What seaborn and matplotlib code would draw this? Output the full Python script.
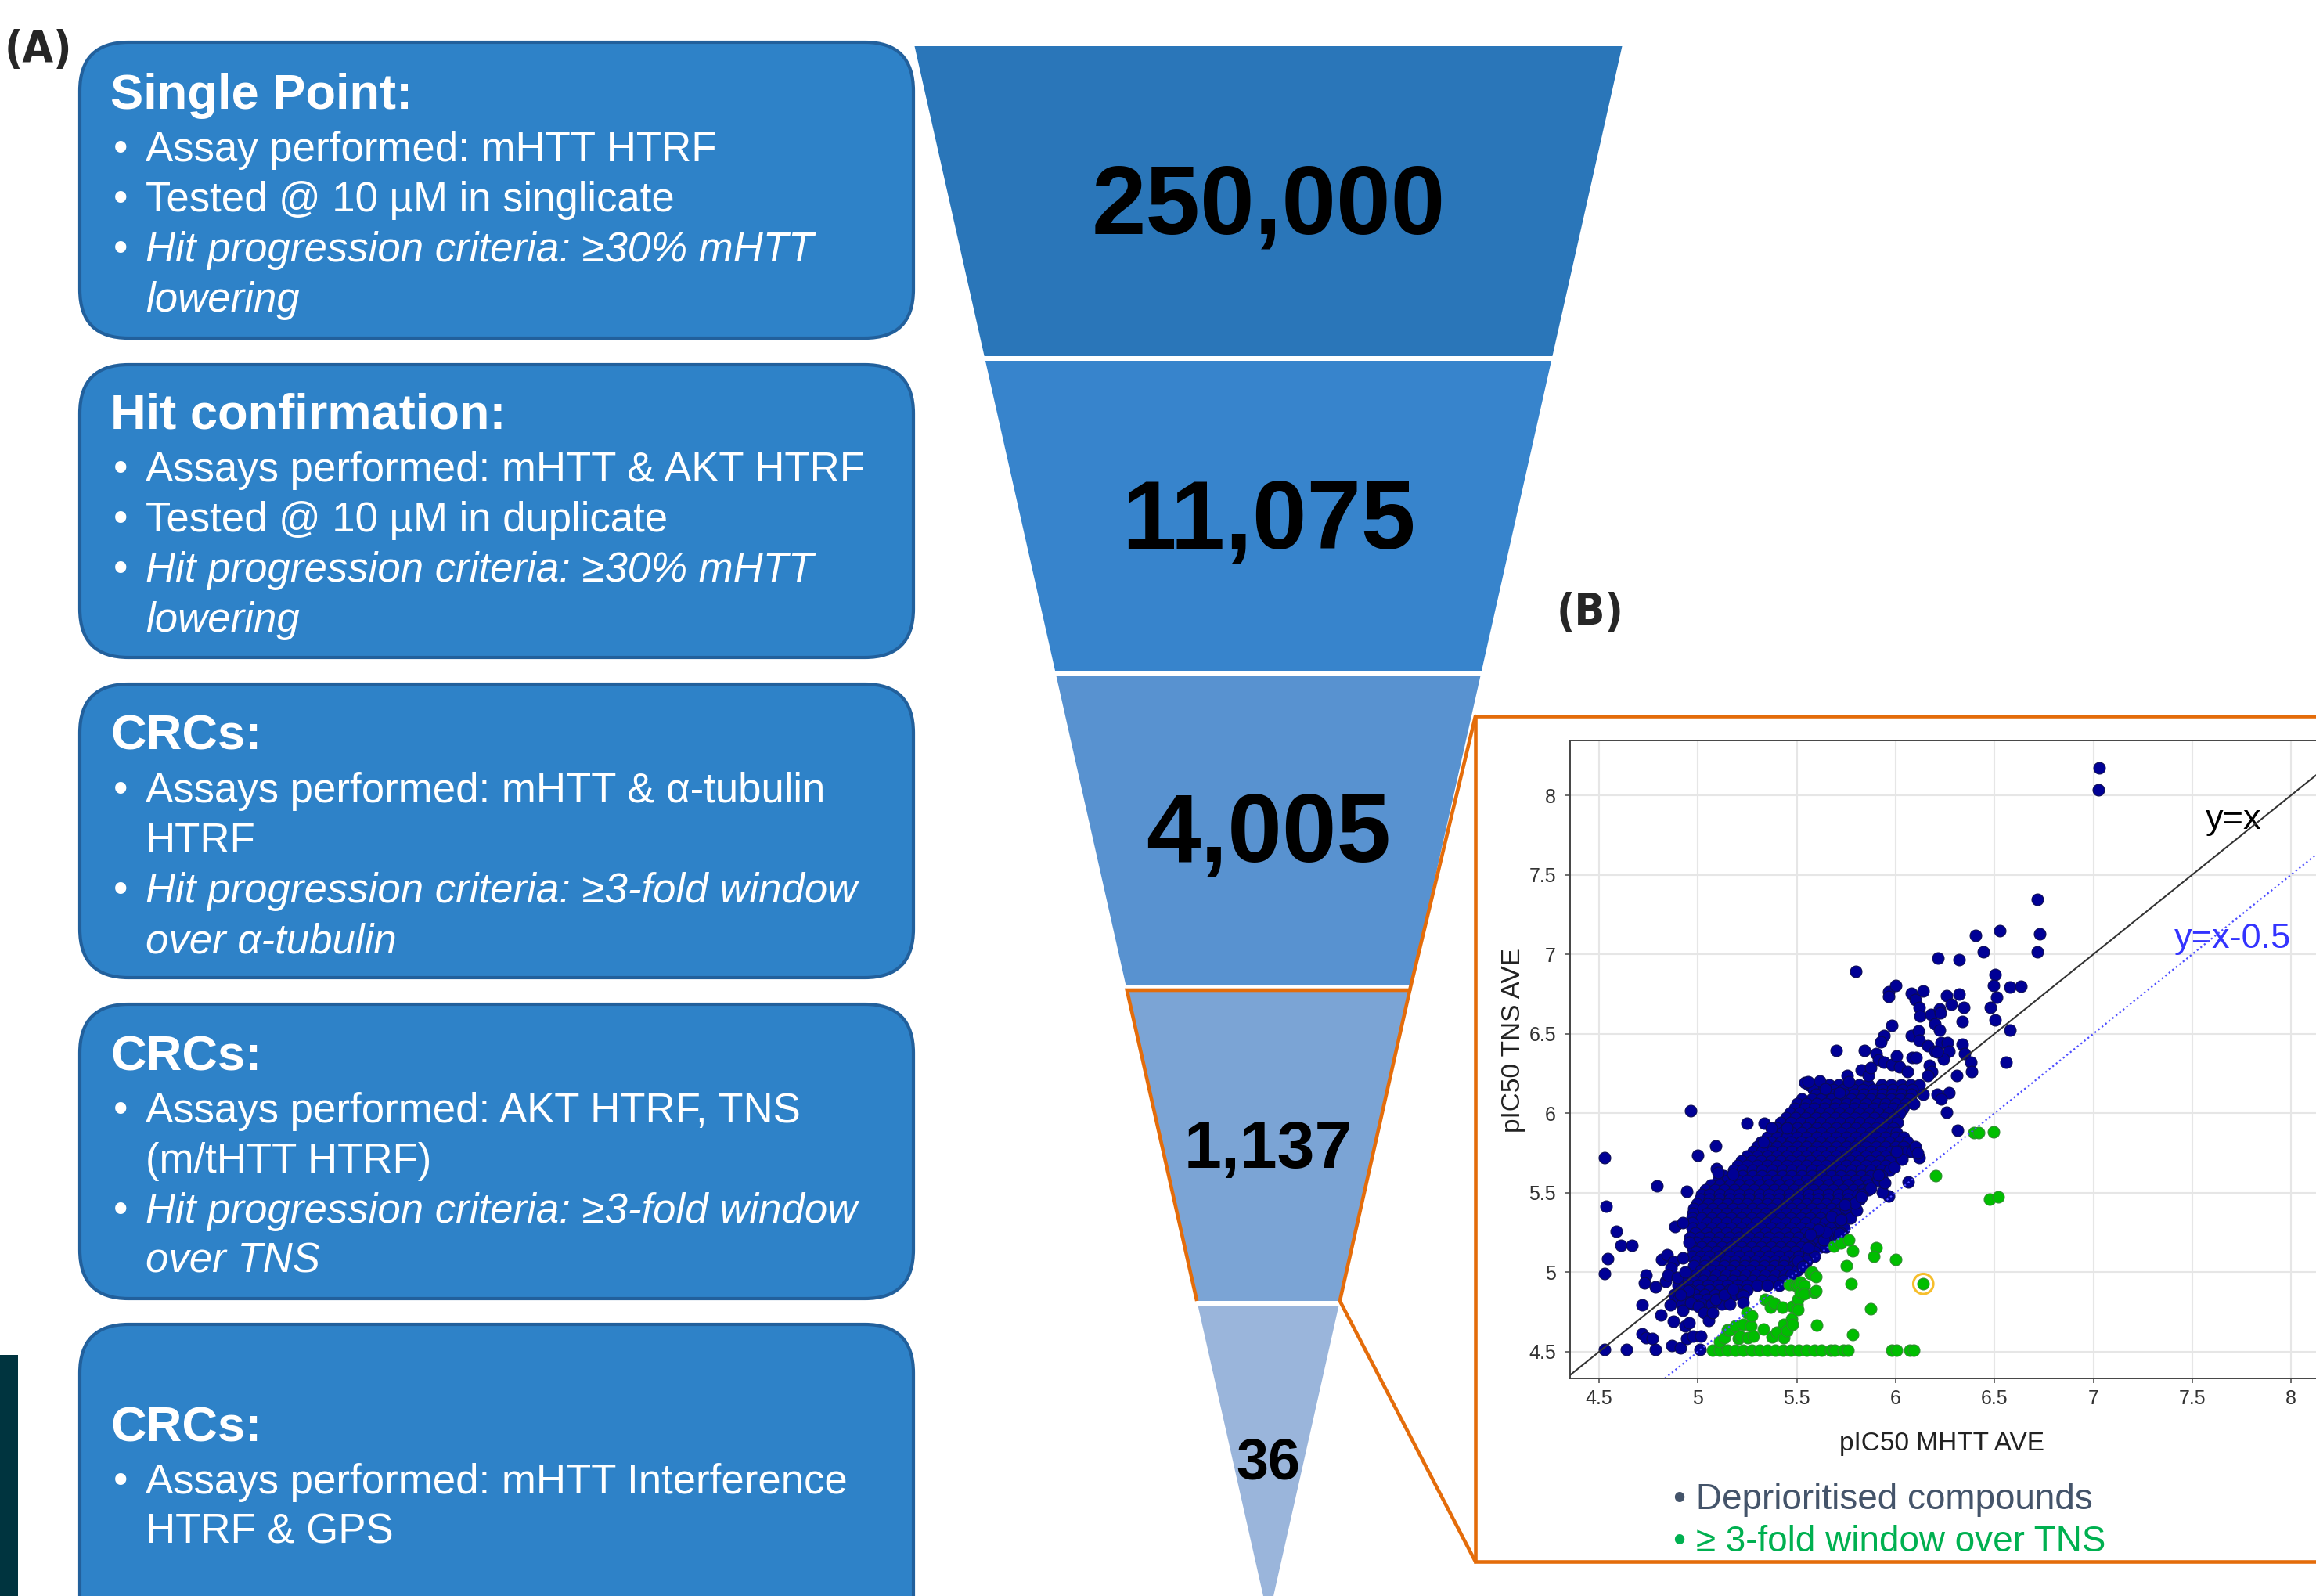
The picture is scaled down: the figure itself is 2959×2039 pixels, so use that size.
import matplotlib
matplotlib.use("Agg")
import matplotlib.pyplot as plt
from matplotlib import font_manager
from matplotlib.patches import FancyBboxPatch, Polygon, Rectangle
from matplotlib.ticker import FormatStrFormatter
import pandas as pd
import seaborn as sns

# ---------------- screening cascade ----------------
stage_counts = [250000, 11075, 4005, 1137, 36]
stage_titles = ["Single Point:", "Hit confirmation:", "CRCs:", "CRCs:", "CRCs:"]
stage_text = [
    [("Assay performed: mHTT HTRF", "normal", True),
     ("Tested @ 10 µM in singlicate", "normal", True),
     ("Hit progression criteria: ≥30% mHTT", "italic", True),
     ("lowering", "italic", False)],
    [("Assays performed: mHTT & AKT HTRF", "normal", True),
     ("Tested @ 10 µM in duplicate", "normal", True),
     ("Hit progression criteria: ≥30% mHTT", "italic", True),
     ("lowering", "italic", False)],
    [("Assays performed: mHTT & α-tubulin", "normal", True),
     ("HTRF", "normal", False),
     ("Hit progression criteria: ≥3-fold window", "italic", True),
     ("over α-tubulin", "italic", False)],
    [("Assays performed: AKT HTRF, TNS", "normal", True),
     ("(m/tHTT HTRF)", "normal", False),
     ("Hit progression criteria: ≥3-fold window", "italic", True),
     ("over TNS", "italic", False)],
    [("Assays performed: mHTT Interference", "normal", True),
     ("HTRF & GPS", "normal", False)],
]

# ---------------- pIC50 scatter (MHTT vs TNS) ----------------
# dense core of deprioritised compounds, listed row by row: {TNS: [MHTT, ...]}
core_rows = {
    6.18: [5.56, 5.61, 5.665, 5.71, 5.76, 5.815, 5.86, 5.93, 5.975, 6.03, 6.075, 6.12],
    6.15: [5.585, 5.635, 5.685, 5.735, 5.785, 5.835, 5.885, 5.935, 5.985, 6.035, 6.085],
    6.12: [5.595, 5.645, 5.69, 5.74, 5.79, 5.84, 5.885, 5.935, 5.98, 6.03, 6.08, 6.14],
    6.09: [5.525, 5.575, 5.625, 5.675, 5.725, 5.775, 5.825, 5.875, 5.925, 5.975, 6.025, 6.07],
    6.06: [5.50, 5.55, 5.60, 5.65, 5.70, 5.75, 5.80, 5.85, 5.905, 5.95, 6.00, 6.05, 6.09],
    6.03: [5.49, 5.54, 5.59, 5.64, 5.69, 5.74, 5.79, 5.84, 5.89, 5.94, 5.99, 6.035],
    6.00: [5.465, 5.515, 5.565, 5.615, 5.665, 5.715, 5.765, 5.815, 5.865, 5.915, 5.965, 6.02],
    5.97: [5.445, 5.495, 5.545, 5.595, 5.645, 5.695, 5.745, 5.795, 5.845, 5.895, 5.945, 5.99],
    5.94: [5.42, 5.47, 5.52, 5.57, 5.62, 5.67, 5.72, 5.77, 5.82, 5.87, 5.92, 5.97, 6.01],
    5.91: [5.40, 5.45, 5.50, 5.55, 5.60, 5.65, 5.70, 5.75, 5.80, 5.85, 5.90, 5.95, 5.99],
    5.88: [5.38, 5.425, 5.475, 5.525, 5.575, 5.625, 5.675, 5.725, 5.775, 5.825, 5.875, 5.925, 5.975, 6.005],
    5.85: [5.35, 5.40, 5.45, 5.50, 5.55, 5.60, 5.65, 5.70, 5.75, 5.80, 5.85, 5.90, 5.95, 6.00, 6.04],
    5.82: [5.32, 5.37, 5.42, 5.47, 5.52, 5.57, 5.62, 5.67, 5.72, 5.77, 5.82, 5.87, 5.92, 5.97, 6.02, 6.06],
    5.79: [5.30, 5.35, 5.40, 5.45, 5.50, 5.55, 5.60, 5.65, 5.70, 5.75, 5.80, 5.85, 5.90, 5.95, 6.00, 6.04],
    5.76: [5.28, 5.325, 5.375, 5.425, 5.475, 5.525, 5.575, 5.625, 5.675, 5.725, 5.775, 5.825, 5.875, 5.925, 5.975, 6.02, 6.06],
    5.73: [5.25, 5.30, 5.35, 5.40, 5.45, 5.50, 5.55, 5.60, 5.65, 5.70, 5.75, 5.80, 5.85, 5.90, 5.95, 6.00],
    5.70: [5.22, 5.27, 5.32, 5.37, 5.42, 5.47, 5.52, 5.57, 5.62, 5.67, 5.72, 5.77, 5.82, 5.87, 5.92, 5.97],
    5.67: [5.20, 5.25, 5.30, 5.35, 5.40, 5.45, 5.50, 5.55, 5.60, 5.65, 5.70, 5.75, 5.80, 5.85, 5.90, 5.95],
    5.64: [5.18, 5.225, 5.275, 5.325, 5.375, 5.425, 5.475, 5.525, 5.575, 5.625, 5.675, 5.725, 5.775, 5.825, 5.875, 5.925, 5.97],
    5.61: [5.13, 5.175, 5.225, 5.275, 5.325, 5.375, 5.425, 5.475, 5.525, 5.575, 5.625, 5.675, 5.725, 5.775, 5.825, 5.875, 5.93],
    5.58: [5.10, 5.15, 5.20, 5.25, 5.30, 5.35, 5.40, 5.45, 5.50, 5.55, 5.60, 5.65, 5.70, 5.75, 5.80, 5.85, 5.91],
    5.55: [5.065, 5.11, 5.16, 5.21, 5.26, 5.31, 5.36, 5.41, 5.46, 5.51, 5.56, 5.61, 5.66, 5.71, 5.76, 5.81, 5.86],
    5.52: [5.04, 5.085, 5.135, 5.185, 5.235, 5.285, 5.335, 5.385, 5.435, 5.485, 5.535, 5.585, 5.635, 5.685, 5.735, 5.785, 5.835, 5.86],
    5.49: [5.02, 5.06, 5.11, 5.16, 5.21, 5.26, 5.31, 5.36, 5.41, 5.46, 5.51, 5.56, 5.61, 5.66, 5.71, 5.76, 5.81, 5.83],
    5.46: [5.01, 5.06, 5.11, 5.16, 5.21, 5.26, 5.31, 5.36, 5.41, 5.46, 5.51, 5.56, 5.61, 5.66, 5.71, 5.76, 5.82],
    5.43: [4.995, 5.05, 5.10, 5.15, 5.20, 5.25, 5.30, 5.35, 5.40, 5.45, 5.50, 5.55, 5.60, 5.65, 5.70, 5.75, 5.79],
    5.40: [4.98, 5.025, 5.075, 5.125, 5.175, 5.225, 5.275, 5.325, 5.375, 5.425, 5.475, 5.525, 5.575, 5.625, 5.675, 5.725, 5.78],
    5.37: [4.975, 5.045, 5.095, 5.145, 5.195, 5.245, 5.295, 5.345, 5.395, 5.445, 5.495, 5.545, 5.595, 5.645, 5.695, 5.745],
    5.34: [4.97, 5.02, 5.07, 5.12, 5.17, 5.22, 5.27, 5.32, 5.37, 5.42, 5.47, 5.52, 5.57, 5.62, 5.67, 5.72, 5.77],
    5.31: [4.97, 5.045, 5.095, 5.145, 5.195, 5.245, 5.295, 5.345, 5.395, 5.445, 5.495, 5.545, 5.595, 5.645, 5.695, 5.72],
    5.28: [4.97, 5.02, 5.07, 5.12, 5.17, 5.22, 5.27, 5.32, 5.37, 5.42, 5.47, 5.52, 5.57, 5.62, 5.67, 5.74],
    5.25: [4.985, 5.045, 5.095, 5.145, 5.195, 5.245, 5.295, 5.345, 5.395, 5.445, 5.495, 5.545, 5.595, 5.645, 5.695, 5.725],
    5.22: [4.96, 5.01, 5.06, 5.11, 5.16, 5.21, 5.26, 5.31, 5.36, 5.41, 5.46, 5.51, 5.56, 5.61, 5.66, 5.71],
    5.19: [4.99, 5.045, 5.095, 5.145, 5.195, 5.245, 5.295, 5.345, 5.395, 5.445, 5.495, 5.545, 5.595, 5.645],
    5.16: [4.97, 5.02, 5.07, 5.12, 5.17, 5.22, 5.27, 5.32, 5.37, 5.42, 5.47, 5.52, 5.57, 5.62, 5.65],
    5.13: [4.99, 5.045, 5.095, 5.145, 5.195, 5.245, 5.295, 5.345, 5.395, 5.445, 5.495, 5.545, 5.59],
    5.10: [4.97, 5.015, 5.06, 5.11, 5.16, 5.21, 5.26, 5.31, 5.36, 5.41, 5.46, 5.51, 5.56, 5.59],
    5.07: [4.99, 5.04, 5.09, 5.14, 5.19, 5.24, 5.29, 5.34, 5.39, 5.44, 5.49, 5.55],
    5.04: [4.98, 5.035, 5.085, 5.135, 5.185, 5.235, 5.285, 5.335, 5.385, 5.435, 5.485, 5.53],
    5.01: [5.015, 5.065, 5.115, 5.165, 5.215, 5.265, 5.315, 5.365, 5.415, 5.46, 5.50],
    4.98: [4.99, 5.04, 5.09, 5.14, 5.19, 5.24, 5.29, 5.34, 5.39, 5.44, 5.47],
    4.95: [4.925, 4.975, 5.025, 5.075, 5.125, 5.175, 5.225, 5.275, 5.325, 5.375, 5.43],
    4.92: [4.90, 4.95, 5.00, 5.05, 5.10, 5.15, 5.20, 5.25, 5.30, 5.35, 5.41],
    4.89: [4.91, 4.96, 5.01, 5.06, 5.11, 5.16, 5.20, 5.25],
    4.86: [4.88, 4.935, 4.985, 5.035, 5.085, 5.135, 5.18, 5.22],
    4.83: [4.90, 4.95, 5.00, 5.045, 5.095, 5.14],
    4.80: [4.92, 4.97, 5.02, 5.07, 5.12, 5.16],
}

# remaining deprioritised compounds (MHTT, TNS)
blue_outer = [
    (4.526, 5.723), (4.536, 5.415), (4.586, 5.26), (4.61, 5.168), (4.668, 5.168),
    (4.544, 5.088), (4.526, 4.993), (4.526, 4.516), (4.639, 4.516), (4.784, 4.516),
    (4.718, 4.796), (4.738, 4.984), (4.731, 4.935), (4.784, 4.91), (4.791, 5.543),
    (4.943, 5.51), (4.999, 5.735), (5.09, 5.794), (4.811, 4.73), (4.877, 4.694),
    (4.718, 4.615), (4.738, 4.59), (4.771, 4.582), (4.861, 4.796), (4.817, 5.083),
    (4.844, 5.108), (4.877, 5.067), (4.864, 5.025), (4.884, 5.288), (4.923, 5.313),
    (4.837, 4.943), (4.85, 4.984), (4.897, 4.968), (4.937, 5.0), (4.923, 5.091),
    (4.956, 5.19), (4.87, 4.541), (4.91, 4.525), (4.943, 4.582), (4.976, 4.599),
    (5.009, 4.516), (4.937, 4.664), (4.956, 4.68), (4.923, 4.763), (4.963, 4.812),
    (5.003, 4.787), (5.029, 4.746), (5.056, 4.697), (5.075, 4.746), (5.016, 4.599),
    (5.089, 4.828), (5.135, 4.861), (5.175, 4.894), (5.228, 4.853), (5.228, 4.812),
    (4.95, 4.886), (4.91, 4.861), (4.963, 6.018), (5.095, 5.65), (5.175, 5.617),
    (5.10, 5.625), (5.25, 5.937), (5.337, 5.937), (5.37, 5.907), (5.45, 5.907),
    (5.33, 5.82), (5.54, 6.194),
    (6.065, 5.567), (6.118, 5.72), (5.966, 5.482), (5.933, 5.506), (5.946, 5.564),
    (5.801, 5.391), (5.795, 5.433), (5.716, 5.244), (5.696, 5.367), (5.676, 5.35),
    (5.722, 5.334), (5.828, 5.474), (5.874, 5.531), (5.913, 5.613), (5.993, 5.662),
    (6.032, 5.711), (6.006, 5.761), (6.085, 5.761), (5.636, 5.203), (5.65, 5.252),
    (5.61, 5.268), (5.557, 5.154), (5.504, 5.071), (5.57, 5.236), (5.53, 5.039),
    (5.742, 5.424), (6.10, 5.79), (6.11, 5.75),
    (7.03, 8.17), (7.024, 8.036), (6.718, 7.346), (6.727, 7.131), (6.718, 7.016),
    (6.527, 7.149), (6.406, 7.12), (6.445, 7.016), (6.214, 6.975), (6.32, 6.964),
    (5.80, 6.893), (6.505, 6.873), (6.494, 6.803), (6.577, 6.795), (6.635, 6.80),
    (6.513, 6.729), (6.478, 6.667), (6.505, 6.585), (6.577, 6.524), (6.56, 6.319),
    (5.966, 6.765), (5.999, 6.803), (5.964, 6.734), (6.081, 6.754), (6.138, 6.77),
    (6.257, 6.742), (6.32, 6.75), (6.28, 6.688), (6.346, 6.668), (6.338, 6.576),
    (6.098, 6.713), (6.12, 6.667), (6.125, 6.614), (6.177, 6.622), (6.221, 6.655),
    (6.228, 6.63), (6.197, 6.565), (6.224, 6.524), (5.982, 6.553), (5.94, 6.491),
    (5.927, 6.45), (6.078, 6.491), (6.115, 6.519), (6.118, 6.458), (6.164, 6.425),
    (6.197, 6.392), (6.23, 6.445), (6.263, 6.445), (6.27, 6.392), (6.243, 6.343),
    (6.21, 6.384), (6.336, 6.434), (6.349, 6.376), (5.70, 6.393), (5.841, 6.393),
    (5.90, 6.376), (5.913, 6.338), (5.94, 6.319), (5.979, 6.306), (6.006, 6.36),
    (6.019, 6.294), (6.059, 6.261), (6.085, 6.352), (6.105, 6.352), (6.171, 6.302),
    (6.184, 6.261), (6.164, 6.237), (6.382, 6.319), (6.386, 6.261), (6.309, 6.237),
    (5.557, 6.196), (5.617, 6.204), (5.643, 6.155), (5.755, 6.237), (5.762, 6.196),
    (5.716, 6.13), (5.828, 6.27), (5.861, 6.237), (5.874, 6.286), (6.21, 6.122),
    (6.27, 6.13), (6.23, 6.089), (6.256, 6.007), (6.313, 5.895),
]

# compounds with a >= 3-fold window over TNS (MHTT, TNS)
green_pts = [
    (5.075, 4.51), (5.11, 4.51), (5.15, 4.51), (5.19, 4.51), (5.23, 4.51),
    (5.27, 4.51), (5.31, 4.51), (5.35, 4.51), (5.39, 4.51), (5.43, 4.51),
    (5.47, 4.51), (5.51, 4.51), (5.55, 4.51), (5.59, 4.51), (5.625, 4.51),
    (5.67, 4.51), (5.69, 4.51), (5.735, 4.51), (5.76, 4.51), (5.98, 4.51),
    (6.005, 4.51), (6.07, 4.51), (6.09, 4.51),
    (5.108, 4.566), (5.135, 4.59), (5.148, 4.64), (5.162, 4.636), (5.188, 4.664),
    (5.203, 4.582), (5.214, 4.599), (5.23, 4.671), (5.247, 4.746), (5.254, 4.59),
    (5.267, 4.664), (5.271, 4.725), (5.28, 4.599), (5.333, 4.645), (5.339, 4.832),
    (5.36, 4.82), (5.366, 4.779), (5.373, 4.595), (5.386, 4.804), (5.399, 4.623),
    (5.426, 4.782), (5.433, 4.59), (5.434, 4.671), (5.452, 4.631), (5.461, 4.922),
    (5.492, 4.919), (5.475, 4.707), (5.479, 4.672), (5.479, 4.787), (5.502, 4.797),
    (5.504, 4.916), (5.505, 4.828), (5.504, 4.768), (5.516, 4.94), (5.519, 4.874),
    (5.537, 4.916), (5.537, 4.866), (5.57, 4.994), (5.577, 5.003), (5.59, 4.874),
    (5.597, 4.973), (5.597, 4.886), (5.599, 4.669), (5.689, 5.165), (5.725, 5.186),
    (5.762, 5.206), (5.784, 5.134), (5.749, 5.042), (5.775, 4.927), (5.784, 4.609),
    (5.874, 4.773), (5.90, 5.154), (5.891, 5.101), (6.00, 5.083), (6.14, 4.927),
    (6.204, 5.608), (6.477, 5.462), (6.52, 5.474), (6.395, 5.876), (6.421, 5.876),
    (6.494, 5.884),
]
highlighted = (6.14, 4.927)

tick_values = [4.5, 5, 5.5, 6, 6.5, 7, 7.5, 8]

# ---------------- figure ----------------
sns.set_theme(style="white")
plt.rcParams["font.family"] = ["Liberation Sans", "DejaVu Sans"]

# narrow bold face for the panel letters, if one is installed
panel_kw = dict(family="Liberation Sans", fontsize=40)
for f in font_manager.fontManager.ttflist:
    if f.name == "Liberation Sans Narrow":
        panel_kw = dict(family="Liberation Sans Narrow", fontsize=44)
        break
else:
    for f in font_manager.fontManager.ttflist:
        if f.name == "DejaVu Sans" and f.stretch == "condensed" and f.weight in (700, "bold"):
            panel_kw = dict(family="DejaVu Sans", fontstretch="condensed", fontsize=41)
            break

W, H = 2959, 2039
fig = plt.figure(figsize=(W / 100, H / 100), dpi=100)
fig.patch.set_facecolor("white")

# full-canvas layer in pixel units (y downwards) for the diagram
ax_bg = fig.add_axes([0, 0, 1, 1])
ax_bg.set_xlim(0, W)
ax_bg.set_ylim(H, 0)
ax_bg.axis("off")

box_fill, box_edge = "#2E82C8", "#22609C"
box_left, box_right = 102, 1167
box_tops = [54, 466, 874, 1283, 1692]
box_heights = [378, 374, 375, 376, 430]
title_baselines = [139, 548, 958, 1367, 1841]

for top, hgt, base, title, lines in zip(box_tops, box_heights, title_baselines,
                                        stage_titles, stage_text):
    ax_bg.add_patch(FancyBboxPatch((box_left, top), box_right - box_left, hgt,
                                   boxstyle="round,pad=0,rounding_size=62",
                                   fc=box_fill, ec=box_edge, lw=3))
    ax_bg.text(141, base, title, fontsize=45.5, fontweight="bold", color="white",
               ha="left", va="baseline")
    for k, (txt, style, bullet) in enumerate(lines):
        yb = base + 67 + 64 * k
        if bullet:
            ax_bg.text(145, yb, "•", fontsize=38, color="white", ha="left", va="baseline")
        ax_bg.text(186, yb, txt, fontsize=38, style=style, color="white",
                   ha="left", va="baseline")

# funnel
cx, f_top, f_apex, f_hw = 1620.5, 59, 2068, 452
bounds = [59, 458, 860, 1262, 1665, 2068]
seg_colors = ["#2A76B9", "#3784CC", "#5892D0", "#7BA4D5", "#9AB5DB"]
num_sizes = [90, 90, 90, 62, 53]
num_baselines = [298, 700, 1101, 1492, 1890]


def half_width(y):
    return f_hw * (f_apex - y) / (f_apex - f_top)


segs = []
for i in range(5):
    y0 = bounds[i] + (0 if i == 0 else 3)
    y1 = bounds[i + 1] - (0 if i == 4 else 3)
    pts = [(cx - half_width(y0), y0), (cx + half_width(y0), y0),
           (cx + half_width(y1), y1), (cx - half_width(y1), y1)]
    segs.append(pts)
    ax_bg.add_patch(Polygon(pts, closed=True, fc=seg_colors[i], ec="none"))
    ax_bg.text(cx, num_baselines[i], f"{stage_counts[i]:,}", fontsize=num_sizes[i],
               fontweight="bold", color="black", ha="center", va="baseline")

# zoom call-out from the TNS stage to panel B
orange = "#E46C0A"
s4 = segs[3]
ax_bg.add_patch(Polygon([s4[3], s4[0], s4[1], s4[2]], closed=False, fill=False,
                        ec=orange, lw=3.3, joinstyle="miter"))
ax_bg.plot([s4[1][0], 1885], [s4[1][1], 915], color=orange, lw=3.3)
ax_bg.plot([s4[2][0], 1885], [s4[2][1], 1995], color=orange, lw=3.3)
ax_bg.add_patch(Polygon([(3020, 915), (1885, 915), (1885, 1995), (3020, 1995)],
                        closed=False, fill=False, ec=orange, lw=3.3, joinstyle="miter"))

ax_bg.add_patch(Rectangle((0, 1731), 23, 330, fc="#00343F", ec="none"))

ax_bg.text(6, 80, "(A)", fontweight="bold", ha="left", va="baseline", **panel_kw)
ax_bg.text(1989, 799, "(B)", fontweight="bold", ha="left", va="baseline", **panel_kw)

ax_bg.text(2138, 1928, "• Deprioritised compounds", fontsize=33, color="#44546A",
           ha="left", va="baseline")
ax_bg.text(2138, 1982, "• ≥ 3-fold window over TNS", fontsize=33, color="#00B050",
           ha="left", va="baseline")

# scatter panel
blue_list = [(x, y) for y, xs in core_rows.items() for x in xs] + blue_outer
df_blue = pd.DataFrame(blue_list, columns=["mhtt", "tns"])
df_green = pd.DataFrame(green_pts, columns=["mhtt", "tns"])

ax_l, ax_r, ax_t, ax_b = 2006, 2990, 946, 1761
ax = fig.add_axes([ax_l / W, 1 - ax_b / H, (ax_r - ax_l) / W, (ax_b - ax_t) / H])
ax.set_facecolor("white")

sns.scatterplot(data=df_blue, x="mhtt", y="tns", ax=ax, color="#000096",
                edgecolor="#0b0b52", s=115, linewidth=0.8, zorder=3)
sns.scatterplot(data=df_green, x="mhtt", y="tns", ax=ax, color="#00BE00",
                edgecolor="#2E8B2E", s=115, linewidth=0.8, zorder=3)
ax.scatter([highlighted[0]], [highlighted[1]], s=340, facecolor="none",
           edgecolor="#F6BE2C", linewidth=2.2, zorder=4)

ax.axline((4.5, 4.5), slope=1, color="#333333", lw=1.5, zorder=5)
ax.axline((5.0, 4.5), slope=1, color="#4d4dff", lw=1.6, ls=(0, (1, 1.6)), zorder=5)
ax.text(7.568, 7.789, "y=x", fontsize=32.5, color="black", ha="left", va="baseline")
ax.text(7.41, 7.04, "y=x-0.5", fontsize=32.5, color="#3333FF", ha="left", va="baseline")

ax.set_xlim(4.3535, 4.5 + (ax_r - 2043) / 252.6)
ax.set_ylim(4.3326, 8.3447)
ax.set_xticks(tick_values)
ax.set_yticks(tick_values)
ax.xaxis.set_major_formatter(FormatStrFormatter("%g"))
ax.yaxis.set_major_formatter(FormatStrFormatter("%g"))
ax.grid(True, color="#E6E6E6", lw=1.5, zorder=0)
ax.set_axisbelow(True)
ax.tick_params(axis="both", which="major", direction="out", length=4, width=1.2,
               color="#555555", labelsize=18, labelcolor="#333333", bottom=True, left=True)
ax.tick_params(axis="x", pad=6)
ax.tick_params(axis="y", pad=9)
for side in ["left", "bottom", "top"]:
    ax.spines[side].set_color("#444444")
    ax.spines[side].set_linewidth(1.4)
ax.spines["right"].set_visible(False)

ax.set_xlabel("pIC50 MHTT AVE", fontsize=24, color="#222222")
ax.set_ylabel("pIC50 TNS AVE", fontsize=24, color="#222222")
ax.xaxis.label.set_verticalalignment("baseline")
ax.xaxis.set_label_coords((2481 - ax_l) / (ax_r - ax_l), (ax_b - 1853) / (ax_b - ax_t))
ax.yaxis.set_label_coords((1949 - ax_l) / (ax_r - ax_l), (ax_b - 1329) / (ax_b - ax_t))

fig.savefig("out.png", dpi=100, facecolor="white")
